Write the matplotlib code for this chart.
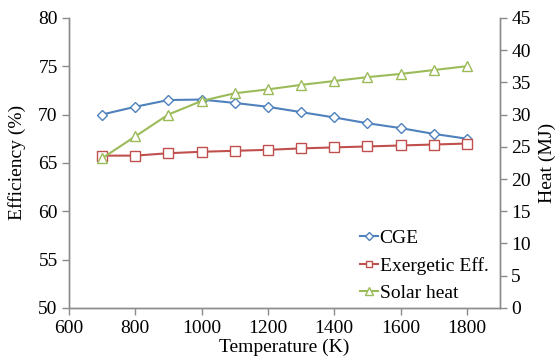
import matplotlib
matplotlib.use('Agg')
from matplotlib import pyplot as plt

temperature = [700, 800, 900, 1000, 1100, 1200, 1300, 1400, 1500, 1600, 1700, 1800]
cge = [70.0, 70.8, 71.5, 71.55, 71.2, 70.8, 70.25, 69.7, 69.1, 68.6, 68.0, 67.5]
exergetic = [65.75, 65.75, 66.0, 66.15, 66.25, 66.35, 66.5, 66.6, 66.7, 66.8, 66.9, 67.0]
solar_heat = [23.2, 26.6, 30.0, 32.1, 33.3, 33.9, 34.6, 35.2, 35.8, 36.3, 36.9, 37.5]

plt.rcParams['font.family'] = ['Liberation Serif', 'DejaVu Serif']
plt.rcParams['font.size'] = 14

blue = '#4F81BD'
red = '#C0504D'
green = '#9BBB59'
grey = '#8c8c8c'

fig = plt.figure(figsize=(5.55, 3.64), dpi=100)
ax = fig.add_axes([0.124, 0.154, 0.777, 0.797])
ax2 = ax.twinx()

l1, = ax.plot(temperature, cge, color=blue, lw=1.5, marker='D', ms=5.5,
              mfc='white', mec=blue, mew=1.0, label='CGE')
l2, = ax.plot(temperature, exergetic, color=red, lw=1.5, marker='s', ms=7,
              mfc='white', mec=red, mew=1.0, label='Exergetic Eff.')
l3, = ax2.plot(temperature, solar_heat, color=green, lw=1.5, marker='^', ms=7.5,
               mfc='white', mec=green, mew=1.0, label='Solar heat')

ax.set_xlim(600, 1900)
ax.set_xticks(range(600, 1801, 200))
ax.set_ylim(50, 80)
ax.set_yticks(range(50, 81, 5))
ax2.set_ylim(0, 45)
ax2.set_yticks(range(0, 46, 5))

for a in (ax, ax2):
    a.spines['top'].set_visible(False)
    for s in ('left', 'right', 'bottom'):
        a.spines[s].set_color(grey)
        a.spines[s].set_linewidth(1.0)
    a.tick_params(colors=grey, labelcolor='black', length=5, width=1.0, direction='out', labelsize=14)
ax.tick_params(axis='x', pad=4)
ax.tick_params(axis='y', pad=3)
ax2.tick_params(axis='y', pad=3)

ax.set_xlabel('Temperature (K)', labelpad=1)
ax.set_ylabel('Efficiency (%)', labelpad=9)
ax2.set_ylabel('Heat (MJ)', labelpad=6)

ax2.legend([l1, l2, l3], ['CGE', 'Exergetic Eff.', 'Solar heat'],
           loc='lower right', bbox_to_anchor=(1.0, -0.02), frameon=False,
           handlelength=0.9, handletextpad=0.1, labelspacing=0.5,
           borderaxespad=0.2, markerscale=0.7)

plt.savefig('out.png', dpi=100)
